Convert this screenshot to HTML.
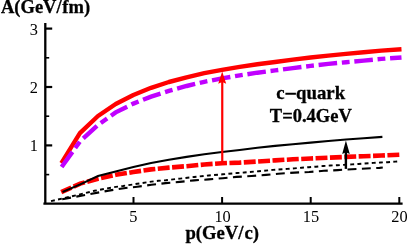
<!DOCTYPE html>
<html><head><meta charset="utf-8"><style>
html,body{margin:0;padding:0;background:#fff;}
body{width:407px;height:246px;position:relative;overflow:hidden;}
svg{display:block;font-family:"Liberation Serif",serif;}
</style></head><body>
<svg width="407" height="246" viewBox="0 0 407 246">
<rect width="407" height="246" fill="#fff"/>
<polyline points="62.00,199.30 108.70,190.60 123.90,188.20 137.20,186.70 151.40,184.80 165.70,183.10 179.70,181.90 194.10,180.40 208.60,179.40 222.80,178.20 236.40,176.90 251.60,176.00 266.00,174.90 278.30,173.70 294.70,172.60 309.20,172.00 323.90,170.80 337.70,170.10 351.90,169.20 379.60,167.90 382.80,167.50" fill="none" stroke="#000" stroke-width="2.1" stroke-dasharray="8.9 5.46" stroke-dashoffset="-0.19"/>
<polyline points="50.70,201.25 84.30,193.30 94.50,190.80 108.50,188.10 115.90,186.90 123.10,186.00 137.20,183.80 151.40,181.60 158.30,180.80 165.70,180.20 180.10,178.60 194.10,177.00 208.60,175.50 222.80,174.30 237.10,173.00 244.20,172.50 258.70,171.20 273.00,169.90 287.20,168.90 294.40,168.40 301.60,167.70 308.90,167.20 316.00,166.70 323.20,166.00 330.30,165.50 337.60,165.20 352.00,164.40 358.50,164.00 373.30,162.90 380.80,162.50 387.80,162.20 395.20,161.60 399.30,161.30" fill="none" stroke="#000" stroke-width="1.9" stroke-dasharray="3.9 3.29" stroke-dashoffset="-0.33"/>
<polyline points="61.21,192.19 80.20,183.60 98.00,178.70 115.70,174.80 133.40,172.00 151.10,169.40 168.90,167.60 186.60,166.20 204.30,164.50 222.00,163.20 239.70,162.60 257.40,161.50 275.10,160.40 292.90,159.30 310.60,158.50 328.30,157.70 346.00,156.90 363.70,156.20 381.40,155.50 399.30,154.70" fill="none" stroke="#f00" stroke-width="4.6" stroke-dasharray="11.9 2.48" stroke-dashoffset="-13.67"/>
<polyline points="62.50,192.00 80.20,184.40 98.00,176.00 115.70,171.50 133.40,166.90 151.10,163.00 168.90,159.80 186.60,156.90 204.30,154.20 222.00,152.00 239.70,150.00 257.40,147.70 275.10,145.90 292.90,144.30 310.60,142.60 328.30,141.00 346.00,139.50 363.70,138.20 382.40,136.90" fill="none" stroke="#000" stroke-width="2.1"/>
<polyline points="62.50,161.30 79.90,133.20 98.00,116.00 115.70,104.00 133.40,95.00 151.10,87.80 168.90,82.00 186.60,77.30 204.30,73.10 222.00,69.80 239.70,66.90 257.40,64.30 275.10,62.00 292.90,59.60 310.60,57.50 328.30,55.60 346.00,53.90 363.70,52.30 381.40,50.60 399.30,49.40" fill="none" stroke="#f00" stroke-width="4.4" stroke-linejoin="round" stroke-linecap="square"/>
<polyline points="61.52,167.09 79.90,141.50 98.00,125.00 115.70,112.40 133.40,103.60 151.10,96.60 168.90,90.90 186.60,86.00 204.30,81.80 222.00,78.40 239.70,75.40 257.40,72.70 275.10,70.40 292.90,68.10 310.60,65.90 328.30,63.90 346.00,62.20 363.70,60.60 381.40,58.90 401.49,57.44" fill="none" stroke="#c000ff" stroke-width="4.4" stroke-dasharray="18.6 4.75 7.8 4.75" stroke-dashoffset="-0.15"/>
<path d="M45.3,23.1 V204.7 M43.4,203.6 H402.6" stroke="#000" stroke-width="2.3" fill="none"/>
<path d="M45,145.4 H52.2" stroke="#000" stroke-width="2.2"/>
<path d="M45,87.0 H52.2" stroke="#000" stroke-width="2.2"/>
<path d="M45,28.6 H52.2" stroke="#000" stroke-width="2.2"/>
<path d="M45,174.6 H49.2" stroke="#000" stroke-width="1.6"/>
<path d="M45,116.2 H49.2" stroke="#000" stroke-width="1.6"/>
<path d="M45,57.8 H49.2" stroke="#000" stroke-width="1.6"/>
<path d="M133.5,197 V204" stroke="#000" stroke-width="2"/>
<path d="M222.1,197 V204" stroke="#000" stroke-width="2"/>
<path d="M310.7,197 V204" stroke="#000" stroke-width="2"/>
<path d="M399.3,197 V204" stroke="#000" stroke-width="2"/>
<path d="M222.25,163 V82" stroke="#f00" stroke-width="2.2"/>
<path d="M222.2,71.5 L226.2,83.8 L222.2,82.0 L218.2,83.8 Z" fill="#f00"/>
<path d="M345.9,168.9 V152" stroke="#000" stroke-width="2.4"/>
<path d="M345.9,140.6 L349.8,154 L345.9,152.2 L342.2,154 Z" fill="#000"/>
<g style="will-change:opacity" opacity="0.999">
<text transform="translate(33.8,151.4) scale(0.93,1)" text-anchor="middle" font-size="17.6">1</text>
<text transform="translate(33.8,93.0) scale(0.93,1)" text-anchor="middle" font-size="17.6">2</text>
<text transform="translate(33.8,34.6) scale(0.93,1)" text-anchor="middle" font-size="17.6">3</text>
<text transform="translate(133.4,221.8) scale(0.93,1)" text-anchor="middle" font-size="17.6">5</text>
<text transform="translate(222.6,221.8) scale(0.93,1)" text-anchor="middle" font-size="17.6">10</text>
<text transform="translate(311.0,221.8) scale(0.93,1)" text-anchor="middle" font-size="17.6">15</text>
<text transform="translate(399.4,221.8) scale(0.93,1)" text-anchor="middle" font-size="17.6">20</text>
<text transform="translate(1.0,12.6) scale(1.0,1)" text-anchor="start" font-size="18.5" font-weight="bold" stroke="#000" stroke-width="0.3">A(GeV/<tspan dx="0.7">fm)</tspan></text>
<text transform="translate(185.4,239.0) scale(1.0,1)" text-anchor="start" font-size="18.7" font-weight="bold" stroke="#000" stroke-width="0.3">p(GeV/<tspan dx="1">c)</tspan></text>
<text transform="translate(276.3,99.0) scale(1.0,1)" text-anchor="start" font-size="18.8" font-weight="bold" stroke="#000" stroke-width="0.3">c<tspan dx="11.4">quark</tspan></text>
<text transform="translate(269.8,122.3) scale(1.0,1)" text-anchor="start" font-size="18.5" font-weight="bold" stroke="#000" stroke-width="0.3">T=0.4GeV</text>
<rect x="285.4" y="92.75" width="10.5" height="2.0" fill="#000"/>
</g>
</svg>
</body></html>
